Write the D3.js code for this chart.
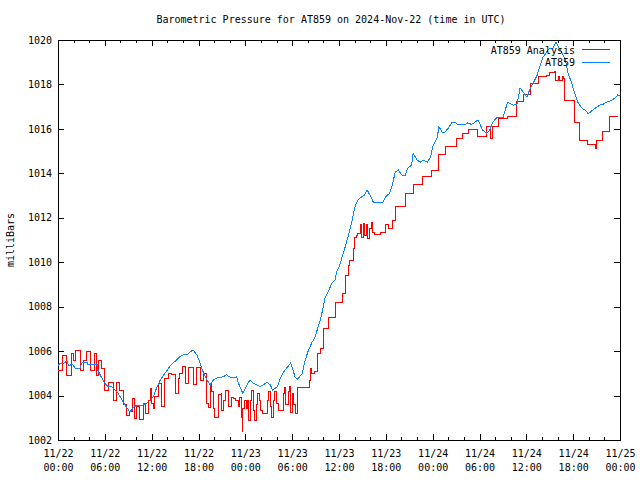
<!DOCTYPE html>
<html><head><meta charset="utf-8">
<script src="https://cdn.jsdelivr.net/npm/d3@7"></script>
<style>
body{margin:0;background:#fff}
text{font-family:"DejaVu Sans Mono","Liberation Mono",monospace;font-size:10px;fill:#000}
</style>
</head><body><svg id="c" width="640" height="480"></svg>
<script>
const title = "Barometric Pressure for AT859 on 2024-Nov-22 (time in UTC)";
const yLabel = "milliBars";
const seriesNames = ["AT859 Analysis", "AT859"];
const seriesColors = ["#ff0000", "#0a84ff"];
const startTime = "2024-11-22T00:00:00Z";
const endTime = "2024-11-25T00:00:00Z";
const yDomain = [1002, 1020];
const yTicks = [1002, 1004, 1006, 1008, 1010, 1012, 1014, 1016, 1018, 1020];

// AT859 station observations (hours after start, mb)
const stationHours = [0,0.3,0.6,1.15,1.4,1.8,2.2,2.8,3.1,3.7,3.85,4.4,5.0,5.1,5.6,6.0,6.4,6.9,7.3,7.7,8.2,8.6,9.2,9.6,10.1,10.9,11.4,11.8,12.2,12.7,13.1,13.5,14.0,14.3,14.7,15.2,15.6,16.0,16.5,16.9,17.3,17.8,18.2,18.6,19.1,19.5,19.9,20.4,20.75,21.1,21.6,22.0,22.4,22.9,23.1,23.6,23.7,24.2,24.6,25.0,25.5,25.9,26.3,26.8,27.2,27.5,28.1,28.4,28.8,29.3,29.8,30.1,30.4,30.7,31.3,31.6,32.0,32.5,32.9,33.2,33.6,33.9,34.2,34.6,35.1,35.5,35.7,36.1,36.4,36.8,37.2,37.7,38.0,38.4,38.9,39.3,39.6,40.0,40.4,41.0,41.6,42.1,42.5,42.9,43.2,43.6,44.1,44.5,44.8,45.3,45.5,46.0,46.4,46.8,47.3,47.7,48.0,48.6,48.8,49.2,49.6,50.0,50.5,50.9,51.2,51.8,52.1,52.5,53.0,53.4,53.8,54.1,54.4,54.95,55.3,55.7,56.2,57.0,57.6,58.3,58.8,59.2,59.6,60.1,60.5,60.9,61.4,61.7,62.1,62.6,63.0,63.4,63.8,64.1,64.6,65.0,65.3,65.8,66.2,66.6,67.1,67.5,67.9,68.2,68.5,69.1,69.4,69.8,70.3,71.0,71.4,71.7,72.0];
const stationValues = [1005.35,1005.45,1005.42,1005.56,1005.33,1005.42,1005.24,1005.24,1005.5,1005.5,1005.4,1005.4,1005.4,1005.15,1004.8,1004.56,1004.4,1004.4,1004.25,1004.1,1003.8,1003.57,1003.26,1003.44,1003.57,1003.57,1003.66,1003.8,1003.94,1004.4,1004.7,1004.9,1005.15,1005.3,1005.46,1005.6,1005.74,1005.83,1005.83,1005.96,1006.05,1005.83,1005.46,1005.06,1004.7,1004.48,1004.7,1004.8,1004.8,1004.84,1004.93,1004.84,1004.8,1004.84,1004.57,1004.16,1004.1,1004.48,1004.7,1004.57,1004.48,1004.4,1004.48,1004.6,1004.48,1004.25,1004.4,1004.7,1005.0,1005.24,1005.46,1005.15,1004.8,1004.74,1005.0,1005.5,1005.96,1006.37,1006.6,1006.95,1007.4,1007.85,1008.4,1008.66,1009.07,1009.2,1009.56,1009.87,1010.24,1010.7,1011.2,1011.9,1012.44,1012.8,1012.94,1013.03,1013.25,1013.0,1012.7,1012.67,1012.7,1013.0,1013.1,1013.57,1014.06,1014.15,1013.9,1013.9,1014.24,1014.37,1014.9,1014.6,1014.5,1014.6,1014.5,1014.7,1015.19,1015.64,1016.1,1015.86,1015.86,1016.04,1016.3,1016.3,1016.18,1016.18,1016.18,1016.27,1016.2,1016.3,1016.4,1016.18,1015.95,1015.8,1015.95,1016.3,1016.5,1016.5,1017.2,1017.07,1017.1,1017.84,1017.66,1017.43,1017.84,1018.07,1018.43,1018.79,1019.2,1019.46,1019.64,1019.64,1019.9,1019.7,1019.4,1019.1,1018.56,1018.07,1017.6,1017.2,1016.94,1016.85,1016.7,1016.75,1016.85,1017.0,1017.07,1017.1,1017.2,1017.3,1017.4,1017.53,1017.5];

// AT859 Analysis (stepped; hours after start, mb)
const analysisHours = [0,0.55,1.1,1.67,2.0,2.27,2.82,3.25,3.68,4.1,4.66,4.96,5.17,5.6,6.0,6.45,7.1,7.5,7.9,8.4,8.8,9.2,9.5,9.75,10.1,10.5,10.9,11.15,11.6,11.8,11.95,12.2,12.4,12.9,13.3,13.7,14.1,14.6,15.0,15.4,15.6,15.9,16.3,16.7,17.4,17.8,18.2,18.6,19.0,19.3,19.5,19.7,19.9,20.1,20.4,20.6,20.9,21.0,21.2,21.4,21.6,21.8,22.0,22.2,22.5,22.8,23.1,23.3,23.5,23.6,23.7,23.9,24.1,24.3,24.4,24.6,24.8,25.0,25.2,25.4,25.6,25.8,26.0,26.2,26.5,26.8,27.0,27.2,27.4,27.6,27.8,28.0,28.3,28.6,28.9,29.0,29.2,29.5,29.6,29.8,30.0,30.2,30.4,30.7,32.2,32.3,32.5,32.9,33.3,33.6,34.0,34.7,35.6,36.5,36.8,37.2,37.4,37.8,38.0,38.2,38.4,38.7,38.9,39.1,39.3,39.5,39.7,39.9,40.1,40.3,40.5,41.3,42.0,42.3,42.8,43.2,44.5,45.5,46.7,47.9,48.8,49.6,51.0,51.8,52.6,53.8,54.9,55.4,55.7,56.4,57.6,58.8,59.6,60.5,61.6,62.6,63.0,63.6,63.8,64.1,64.3,64.6,64.8,64.95,66.2,66.8,67.8,68.8,69.0,69.8,70.7,71.8];
const analysisValues = [1005.14,1005.82,1004.9,1005.9,1005.6,1006.05,1005.14,1005.6,1006.0,1005.14,1005.9,1004.9,1005.6,1005.2,1004.23,1004.6,1003.77,1004.6,1004.23,1003.6,1003.1,1003.3,1003.86,1002.98,1003.5,1002.93,1003.66,1003.2,1003.8,1004.33,1003.65,1003.43,1003.95,1004.55,1003.5,1004.78,1005.0,1004.95,1004.1,1004.78,1005.0,1005.3,1004.55,1005.25,1004.48,1005.25,1004.7,1005.0,1003.66,1003.45,1004.5,1004.2,1003.4,1003.0,1003.0,1004.03,1004.1,1003.35,1003.8,1004.25,1004.25,1003.5,1003.5,1003.9,1003.85,1003.8,1003.5,1003.9,1003.0,1002.4,1003.4,1003.8,1003.4,1003.8,1002.9,1003.8,1004.25,1003.35,1002.9,1003.6,1004.1,1003.8,1003.35,1003.2,1003.2,1003.8,1004.2,1003.5,1003.0,1003.8,1004.2,1003.65,1003.35,1003.35,1004.1,1004.35,1003.6,1004.2,1004.4,1003.25,1004.1,1003.6,1003.2,1004.35,1004.7,1005.24,1005.0,1005.1,1005.9,1006.14,1007.04,1007.53,1008.2,1008.6,1009.4,1009.87,1010.1,1010.64,1011.1,1011.2,1011.3,1011.7,1011.1,1011.75,1011.2,1011.7,1011.05,1011.5,1011.8,1011.35,1011.27,1011.36,1011.68,1011.5,1011.9,1012.5,1013.1,1013.48,1013.85,1014.15,1014.83,1015.2,1015.58,1015.8,1015.98,1015.65,1016.1,1015.58,1016.1,1016.48,1016.55,1017.23,1017.53,1018.05,1018.35,1018.4,1018.53,1018.58,1018.2,1018.35,1018.2,1018.35,1018.28,1017.3,1016.3,1015.5,1015.3,1015.14,1015.5,1015.9,1016.54,1016.54];

const svg = d3.select("#c");
const L = 58, R = 620, T = 40, B = 440;
const t0 = new Date(startTime), t1 = new Date(endTime);
const hourToDate = h => new Date(t0.getTime() + h * 3600e3);

const x = d3.scaleUtc().domain([t0, t1]).range([L, R]);
const y = d3.scaleLinear().domain(yDomain).range([B, T]);

svg.append("rect").attr("width", 640).attr("height", 480).attr("fill", "#fff");

const fmtDay = d3.utcFormat("%m/%d"), fmtTime = d3.utcFormat("%H:%M");

function styleAxis(g) {
  g.select(".domain").remove();
  g.selectAll("line").attr("stroke", "#000").attr("shape-rendering", "crispEdges");
  g.selectAll("text").attr("fill", "#000").attr("font-size", null).attr("font-family", null);
}

// minor x ticks (2h)
svg.append("g").attr("transform", `translate(0,${B})`)
  .call(d3.axisBottom(x).ticks(d3.utcHour.every(2)).tickSize(-3).tickFormat(""))
  .call(styleAxis);
svg.append("g").attr("transform", `translate(0,${T})`)
  .call(d3.axisTop(x).ticks(d3.utcHour.every(2)).tickSize(-3).tickFormat(""))
  .call(styleAxis);
// major x ticks (6h)
const xb = svg.append("g").attr("transform", `translate(0,${B})`)
  .call(d3.axisBottom(x).ticks(d3.utcHour.every(6)).tickSize(-6).tickPadding(17).tickFormat(""))
  .call(styleAxis);
xb.selectAll(".tick text").each(function(d) {
  const t = d3.select(this).attr("dy", null).attr("y", 0);
  t.append("tspan").attr("x", 0).attr("y", 17).text(fmtDay(d));
  t.append("tspan").attr("x", 0).attr("y", 31).text(fmtTime(d));
});
svg.append("g").attr("transform", `translate(0,${T})`)
  .call(d3.axisTop(x).ticks(d3.utcHour.every(6)).tickSize(-6).tickFormat(""))
  .call(styleAxis);

// y ticks
svg.append("g").attr("transform", `translate(${L},0)`)
  .call(d3.axisLeft(y).tickValues(yTicks).tickSize(-6).tickPadding(6).tickFormat(d3.format("d")))
  .call(styleAxis);
svg.append("g").attr("transform", `translate(${R},0)`)
  .call(d3.axisRight(y).tickValues(yTicks).tickSize(-6).tickFormat(""))
  .call(styleAxis);

// frame
svg.append("rect").attr("x", L + 0.5).attr("y", T + 0.5).attr("width", R - L).attr("height", B - T)
  .attr("fill", "none").attr("stroke", "#000").attr("stroke-width", 1);

// series
const analysis = analysisHours.map((h, i) => [hourToDate(h), analysisValues[i]]);
const station = stationHours.map((h, i) => [hourToDate(h), stationValues[i]]);

svg.append("path").datum(analysis)
  .attr("fill", "none").attr("stroke", seriesColors[0]).attr("stroke-width", 1)
  .attr("shape-rendering", "crispEdges")
  .attr("d", d3.line().x(d => x(d[0])).y(d => y(d[1])).curve(d3.curveStepAfter));
svg.append("path").datum(station)
  .attr("fill", "none").attr("stroke", seriesColors[1]).attr("stroke-width", 1)
  .attr("shape-rendering", "crispEdges")
  .attr("d", d3.line().x(d => x(d[0])).y(d => y(d[1])));

// title & axis label
svg.append("text").attr("x", 331).attr("y", 23).attr("text-anchor", "middle").text(title);
svg.append("text").attr("transform", "translate(14,240) rotate(-90)").attr("text-anchor", "middle").text(yLabel);

// legend
const leg = svg.append("g");
seriesNames.forEach((name, i) => {
  const yy = 50 + i * 12.5;
  leg.append("text").attr("x", 575).attr("y", yy).attr("dy", "0.35em").attr("text-anchor", "end").text(name);
  leg.append("line").attr("x1", 582).attr("x2", 610).attr("y1", Math.round(yy) - 0.5).attr("y2", Math.round(yy) - 0.5)
    .attr("stroke", seriesColors[i]).attr("stroke-width", 1).attr("shape-rendering", "crispEdges");
});
</script>
</body></html>
